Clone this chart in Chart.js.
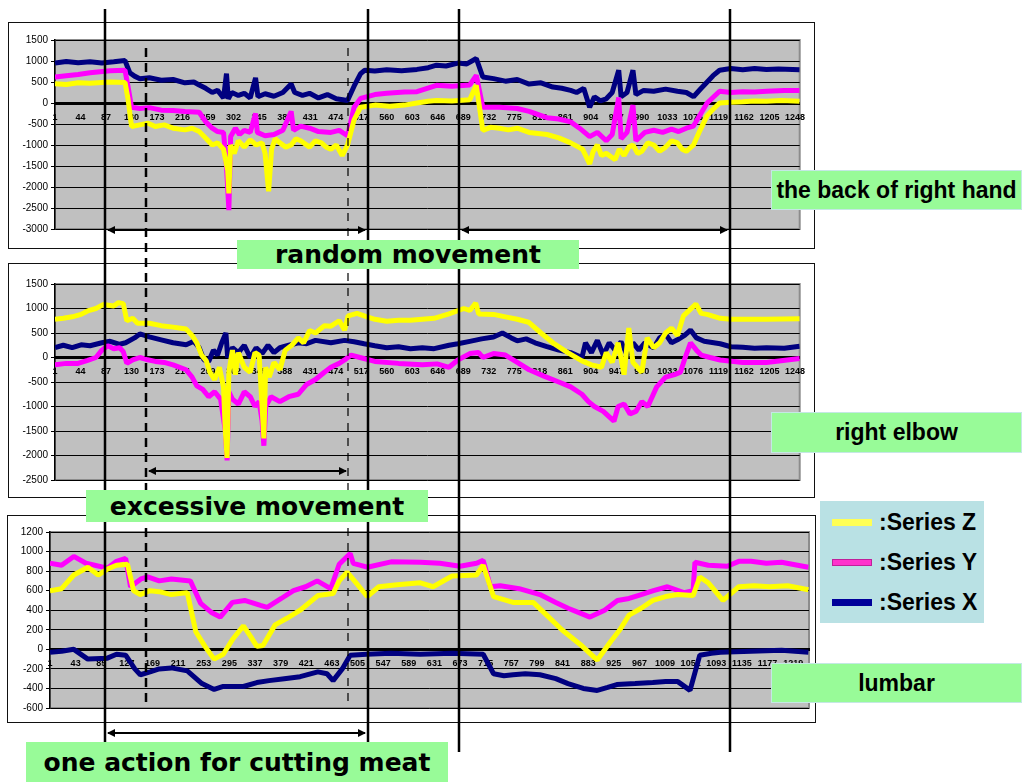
<!DOCTYPE html>
<html>
<head>
<meta charset="utf-8">
<script src="https://cdn.jsdelivr.net/npm/chart.js@4.4.1/dist/chart.umd.min.js"></script>
<style>
  body { margin: 0; background: #fff; }
  #page { position: relative; width: 1022px; height: 782px; overflow: hidden; background: #fff; }
  .box { position: absolute; border: 1.5px solid #111; background: #fff; box-sizing: border-box; }
  canvas { position: absolute; }
  svg { position: absolute; left: 0; top: 0; }
  .g { position: absolute; background: #98fb98; color: #000; display: flex; align-items: center;
       justify-content: center; font-weight: bold; white-space: nowrap; box-sizing: border-box; }
  .big { font-family: "DejaVu Sans", sans-serif; font-size: 25px; }
  .side { font-family: "Liberation Sans", Arial, sans-serif; font-size: 23px; border: 1px solid #c4e8e4; }
  #legend { position: absolute; left: 820px; top: 501px; width: 164px; height: 122px; background: #b9e1e4; }
  .row { position: absolute; left: 0; width: 164px; height: 30px; }
  .sw { position: absolute; left: 12px; width: 40px; height: 7px; top: 12px; }
  .lt { position: absolute; left: 59px; top: 0; font: bold 23px "Liberation Sans", Arial, sans-serif;
        line-height: 30px; white-space: nowrap; }
</style>
</head>
<body>
<div id="page">
  <div class="box" style="left:8px;top:22px;width:807px;height:227px"></div>
  <div class="box" style="left:8px;top:263px;width:807px;height:235px"></div>
  <div class="box" style="left:7px;top:515px;width:809px;height:208px"></div>

  <canvas id="hand" width="805" height="226" style="left:9px;top:22px"></canvas>
  <canvas id="elbow" width="805" height="234" style="left:9px;top:263px"></canvas>
  <canvas id="lumbar" width="807" height="207" style="left:8px;top:515px"></canvas>

  <svg width="1022" height="782">
    <defs>
      <marker id="ah" markerWidth="8" markerHeight="8" refX="7" refY="4" orient="auto-start-reverse" markerUnits="userSpaceOnUse">
        <path d="M0,0 L8,4 L0,8 z" fill="#000"/>
      </marker>
    </defs>
    <g stroke="#000" stroke-width="2.5">
      <line x1="105" y1="9" x2="105" y2="743"/>
      <line x1="368" y1="9" x2="368" y2="743"/>
      <line x1="459" y1="9" x2="459" y2="752"/>
      <line x1="730" y1="9" x2="730" y2="752"/>
      <line x1="146" y1="48" x2="146" y2="705" stroke-dasharray="9 6"/>
      <line x1="348" y1="48" x2="348" y2="705" stroke-width="1.2" stroke-dasharray="8 7"/>
    </g>
    <g stroke="#000" stroke-width="2" marker-start="url(#ah)" marker-end="url(#ah)">
      <line x1="108" y1="230" x2="365" y2="230"/>
      <line x1="462" y1="230" x2="727" y2="230"/>
      <line x1="149" y1="471" x2="346" y2="471"/>
      <line x1="108" y1="733" x2="365" y2="733"/>
    </g>
  </svg>

  <div class="g big" style="left:237px;top:240px;width:342px;height:29px">random movement</div>
  <div class="g big" style="left:86px;top:490px;width:342px;height:32px">excessive movement</div>
  <div class="g big" style="left:26px;top:742px;width:422px;height:40px">one action for cutting meat</div>
  <div class="g side" style="left:771px;top:170px;width:251px;height:40px">the back of right hand</div>
  <div class="g side" style="left:771px;top:412px;width:251px;height:41px">right elbow</div>
  <div class="g side" style="left:771px;top:663px;width:251px;height:40px">lumbar</div>

  <div id="legend">
    <div class="row" style="top:6px"><div class="sw" style="background:#ffff55"></div><div class="lt">:Series Z</div></div>
    <div class="row" style="top:46px"><div class="sw" style="background:#ff33cc;border:1px solid #c0209a;box-sizing:border-box"></div><div class="lt">:Series Y</div></div>
    <div class="row" style="top:86px"><div class="sw" style="background:#000099"></div><div class="lt">:Series X</div></div>
  </div>
</div>

<script>
// sample number tick labels under the zero line
var handTicks = [1, 44, 87, 130, 173, 216, 259, 302, 345, 388, 431, 474, 517, 560, 603, 646, 689, 732,
  775, 818, 861, 904, 947, 990, 1033, 1076, 1119, 1162, 1205, 1248];
var lumbarTicks = [1, 43, 85, 127, 169, 211, 253, 295, 337, 379, 421, 463, 505, 547, 589, 631, 673, 715,
  757, 799, 841, 883, 925, 967, 1009, 1051, 1093, 1135, 1177, 1219];

// the back of right hand  [sample, value]
var handZ = [[1,460],[20,440],[40,480],[60,470],[94,500],[119,490],[124,100],[130,-560],[144,-520],[158,-480],
  [170,-560],[185,-520],[200,-600],[220,-640],[232,-600],[244,-680],[256,-850],[266,-1000],[275,-950],
  [285,-1100],[292,-1600],[294,-2150],[297,-1000],[303,-1200],[310,-900],[320,-1050],[330,-880],[340,-1000],
  [350,-950],[355,-1200],[361,-2100],[366,-1100],[372,-850],[380,-950],[390,-1050],[399,-1000],[407,-850],
  [415,-900],[430,-1050],[440,-900],[450,-950],[458,-1050],[466,-1100],[475,-1000],[485,-1250],[494,-1000],
  [505,-400],[516,-100],[540,-50],[565,-80],[590,-50],[611,0],[630,40],[644,60],[670,50],[700,80],[711,420],
  [722,-650],[735,-580],[750,-600],[765,-640],[780,-600],[800,-700],[830,-750],[850,-830],[870,-950],
  [890,-1100],[902,-1450],[908,-1150],[915,-1000],[922,-1250],[930,-1200],[945,-1350],[952,-1100],
  [960,-1250],[968,-1050],[975,-1000],[983,-1200],[990,-1150],[1000,-950],[1010,-1000],[1020,-1150],
  [1030,-1050],[1040,-900],[1050,-950],[1058,-1100],[1065,-1150],[1077,-1000],[1088,-650],[1100,-300],
  [1110,-150],[1121,0],[1140,20],[1160,30],[1180,50],[1200,40],[1225,60],[1256,40]];
var handY = [[1,620],[20,650],[40,680],[60,720],[94,770],[119,780],[124,400],[130,-100],[144,-130],[160,-110],
  [180,-170],[200,-180],[220,-200],[244,-220],[255,-450],[266,-600],[275,-680],[285,-700],[290,-1500],
  [294,-2550],[297,-800],[305,-600],[312,-750],[320,-650],[330,-700],[339,-250],[342,-700],[355,-780],
  [370,-750],[385,-650],[399,-200],[403,-650],[415,-550],[430,-600],[445,-680],[466,-700],[480,-650],
  [494,-780],[505,-100],[516,110],[540,200],[560,230],[590,260],[611,270],[644,420],[670,400],[700,430],
  [711,660],[722,-100],[750,-100],[780,-130],[800,-200],[830,-350],[850,-380],[870,-450],[885,-600],
  [902,-800],[915,-700],[930,-900],[940,-750],[951,130],[955,-850],[965,-700],[975,-50],[980,-900],
  [995,-700],[1010,-650],[1025,-700],[1040,-620],[1052,-680],[1065,-600],[1077,-550],[1100,0],[1121,280],
  [1140,250],[1160,270],[1180,260],[1200,280],[1230,300],[1256,300]];
var handX = [[1,950],[20,990],[40,960],[60,980],[80,950],[100,980],[119,1010],[127,720],[135,640],[144,580],
  [160,600],[180,540],[200,560],[220,480],[235,500],[244,430],[255,350],[266,250],[275,300],[285,120],
  [290,700],[293,100],[299,250],[310,180],[320,230],[330,120],[339,600],[343,150],[355,220],[370,160],
  [385,250],[399,450],[405,250],[418,180],[430,230],[445,120],[460,200],[475,100],[494,60],[505,400],
  [516,700],[523,780],[540,760],[560,790],[585,770],[611,800],[630,840],[644,900],[660,880],[680,950],
  [695,930],[711,1060],[722,620],[740,580],[760,520],[780,560],[800,450],[820,480],[840,380],[855,350],
  [870,300],[880,250],[892,350],[902,-100],[910,150],[920,50],[930,100],[940,250],[951,780],[955,150],
  [965,250],[975,780],[980,200],[993,300],[1010,280],[1030,330],[1050,280],[1065,250],[1077,150],
  [1090,350],[1100,500],[1110,650],[1121,780],[1140,820],[1160,790],[1180,820],[1200,800],[1220,810],[1256,790]];

// right elbow
var elbowZ = [[1,780],[15,800],[30,830],[45,880],[56,950],[70,1000],[82,1080],[100,1050],[108,1120],
  [116,1100],[122,750],[132,800],[140,700],[160,700],[180,650],[200,620],[222,580],[232,450],[240,300],
  [248,50],[256,-70],[262,-300],[270,-450],[278,-200],[285,-600],[288,-1500],[291,-2050],[294,-300],
  [300,150],[305,-350],[310,100],[320,-200],[330,-300],[338,100],[345,50],[350,-1000],[353,-1650],
  [356,-200],[362,-400],[370,-100],[380,-250],[389,150],[400,250],[411,400],[420,300],[430,550],[440,500],
  [455,650],[466,640],[480,750],[489,560],[495,850],[510,900],[522,850],[540,780],[560,740],[580,760],
  [600,760],[620,780],[640,800],[665,890],[690,1000],[700,960],[710,1110],[715,890],[740,880],[760,830],
  [780,780],[799,720],[820,500],[840,300],[865,100],[889,-70],[905,-150],[922,-200],[930,100],[940,-100],
  [950,300],[960,-350],[968,600],[975,-100],[990,-300],[999,400],[1010,200],[1020,300],[1030,500],
  [1040,600],[1050,450],[1060,850],[1081,1090],[1090,900],[1100,880],[1122,800],[1140,780],[1160,780],
  [1200,780],[1256,790]];
var elbowY = [[1,-150],[20,-120],[40,-120],[56,-60],[70,0],[80,150],[90,240],[100,180],[110,200],[116,120],
  [122,-120],[132,-50],[144,0],[155,-40],[170,-80],[185,-100],[200,-150],[222,-250],[232,-400],[240,-580],
  [250,-650],[260,-800],[270,-700],[280,-850],[288,-1500],[291,-2100],[294,-700],[300,-850],[310,-950],
  [320,-700],[330,-800],[338,-1000],[345,-900],[350,-1300],[353,-1800],[356,-1000],[365,-800],[380,-900],
  [395,-800],[411,-750],[425,-550],[440,-450],[455,-300],[466,-200],[480,-120],[489,-50],[500,50],
  [515,0],[540,-80],[580,-120],[620,-150],[645,-130],[665,-200],[680,-50],[700,80],[715,100],[722,0],
  [740,80],[760,50],[780,-100],[800,-250],[825,-380],[850,-500],[870,-600],[889,-750],[900,-900],
  [910,-1000],[925,-1100],[943,-1300],[950,-1000],[960,-950],[970,-1150],[980,-1100],[990,-900],
  [1000,-1000],[1015,-600],[1030,-400],[1045,-350],[1055,-300],[1063,0],[1072,300],[1082,150],[1090,50],
  [1105,0],[1122,-50],[1160,-100],[1200,-100],[1256,-20]];
var elbowX = [[1,200],[15,250],[30,200],[45,260],[60,240],[80,300],[94,330],[110,270],[120,300],[135,400],
  [144,480],[160,420],[180,360],[200,300],[222,260],[235,330],[244,200],[252,-50],[260,-80],[268,150],
  [275,50],[282,300],[289,500],[292,0],[300,200],[310,100],[320,250],[330,0],[340,200],[350,80],[360,250],
  [370,100],[380,200],[395,250],[411,300],[425,280],[440,350],[466,300],[489,350],[505,320],[522,280],
  [540,240],[560,200],[580,220],[600,180],[620,200],[640,180],[665,250],[680,280],[700,330],[720,380],
  [740,420],[755,500],[770,400],[780,340],[795,380],[810,300],[830,220],[850,150],[870,100],[889,0],
  [895,300],[905,100],[915,350],[925,50],[935,300],[945,150],[955,320],[965,50],[975,300],[985,150],
  [995,300],[1010,200],[1020,400],[1030,480],[1040,300],[1050,360],[1062,450],[1072,560],[1082,400],
  [1095,330],[1122,280],[1140,220],[1160,210],[1180,190],[1200,200],[1230,190],[1256,230]];

// lumbar
var lumbarZ = [[1,600],[20,620],[40,760],[63,840],[80,760],[95,820],[110,860],[128,870],[138,600],
  [149,560],[165,600],[180,590],[200,560],[226,580],[240,180],[255,30],[270,-100],[285,-50],[300,100],
  [318,240],[330,130],[340,30],[350,40],[370,250],[390,320],[411,400],[440,550],[465,570],[475,700],
  [488,790],[500,700],[521,540],[540,640],[570,660],[608,680],[629,640],[660,750],[700,760],[711,860],
  [728,540],[760,480],[793,480],[815,350],[840,200],[870,50],[898,-110],[920,80],[935,200],[950,350],
  [970,420],[989,500],[1010,540],[1030,560],[1055,550],[1066,740],[1080,680],[1104,500],[1130,640],
  [1155,650],[1180,640],[1210,650],[1244,610]];
var lumbarY = [[1,880],[20,860],[40,950],[60,880],[95,830],[110,900],[125,930],[133,640],[150,720],
  [161,740],[180,700],[200,720],[231,700],[248,470],[265,380],[280,330],[300,480],[320,500],[346,450],
  [357,430],[380,520],[400,600],[420,640],[439,700],[461,620],[475,870],[493,980],[498,880],[521,840],
  [560,895],[608,890],[640,880],[673,850],[700,880],[711,910],[723,640],[739,650],[770,620],[804,560],
  [830,480],[850,420],[870,370],[886,330],[910,400],[931,500],[950,520],[970,560],[990,600],[1013,640],
  [1040,580],[1055,600],[1058,890],[1080,860],[1111,850],[1130,900],[1150,900],[1175,880],[1200,890],[1244,840]];
var lumbarX = [[1,-30],[20,-20],[40,0],[63,-100],[95,-90],[110,-50],[125,-60],[140,-200],[149,-260],
  [165,-230],[180,-200],[200,-190],[226,-220],[250,-350],[270,-410],[285,-380],[300,-380],[318,-380],
  [340,-340],[360,-320],[385,-300],[411,-280],[440,-230],[455,-250],[465,-320],[480,-200],[493,-60],
  [520,-50],[560,-40],[608,-50],[660,-40],[711,-50],[728,-250],[745,-270],[760,-260],[780,-250],
  [804,-260],[830,-300],[850,-350],[875,-400],[898,-420],[915,-390],[930,-360],[960,-350],[989,-340],
  [1010,-330],[1030,-330],[1050,-420],[1066,-60],[1085,-40],[1100,-30],[1150,-20],[1200,-10],[1244,-30]];

var plotBg = {
  id: 'plotBg',
  beforeDraw: function (chart) {
    var a = chart.chartArea, ctx = chart.ctx;
    ctx.save();
    ctx.fillStyle = '#c0c0c0';
    ctx.fillRect(a.left, a.top, a.right - a.left, a.bottom - a.top);
    ctx.strokeStyle = '#8c8c8c';
    ctx.lineWidth = 2;
    ctx.strokeRect(a.left, a.top, a.right - a.left, a.bottom - a.top);
    ctx.restore();
  }
};

function pts(arr) {
  return arr.map(function (p) { return { x: p[0], y: p[1] }; });
}

function plain(v) { return String(v); }

function makeChart(id, z, y, x, o) {
  return new Chart(document.getElementById(id), {
    type: 'line',
    data: {
      datasets: [
        { label: 'Series Z', data: pts(z), borderColor: '#ffff00' },
        { label: 'Series Y', data: pts(y), borderColor: '#ff00ff' },
        { label: 'Series X', data: pts(x), borderColor: '#000080' }
      ]
    },
    options: {
      responsive: false,
      animation: false,
      elements: { line: { borderWidth: 5, tension: 0, borderJoinStyle: 'bevel' }, point: { radius: 0 } },
      layout: { padding: { top: o.top, right: 6, bottom: o.bottom, left: 0 } },
      plugins: { legend: { display: false }, tooltip: { enabled: false } },
      scales: {
        x: {
          type: 'linear',
          position: { y: 0 },
          min: 1,
          max: o.xMax,
          afterBuildTicks: function (s) { s.ticks = o.ticks.map(function (v) { return { value: v }; }); },
          ticks: { autoSkip: false, maxRotation: 0, minRotation: 0, padding: 9, color: '#000', callback: plain,
                   font: { family: 'Liberation Sans', size: 9, weight: 'bold' } },
          grid: { display: false, drawTicks: false },
          border: { display: true, color: '#000', width: 3 }
        },
        y: {
          min: o.yMin,
          max: o.yMax,
          ticks: { stepSize: o.step, color: '#000', padding: 3, callback: plain,
                   font: { family: 'Liberation Sans', size: 10 } },
          afterFit: function (s) { s.width = o.yw; },
          grid: { color: '#000', lineWidth: 1, tickLength: 4 },
          border: { color: '#000', width: 1.5 }
        }
      }
    },
    plugins: [plotBg]
  });
}

makeChart('hand', handZ, handY, handX,
  { top: 18, bottom: 19, yw: 46, yMin: -3000, yMax: 1500, step: 500, xMax: 1256, ticks: handTicks });
makeChart('elbow', elbowZ, elbowY, elbowX,
  { top: 21, bottom: 17, yw: 46, yMin: -2500, yMax: 1500, step: 500, xMax: 1256, ticks: handTicks });
makeChart('lumbar', lumbarZ, lumbarY, lumbarX,
  { top: 17, bottom: 14, yw: 42, yMin: -600, yMax: 1200, step: 200, xMax: 1245, ticks: lumbarTicks });
</script>
</body>
</html>
